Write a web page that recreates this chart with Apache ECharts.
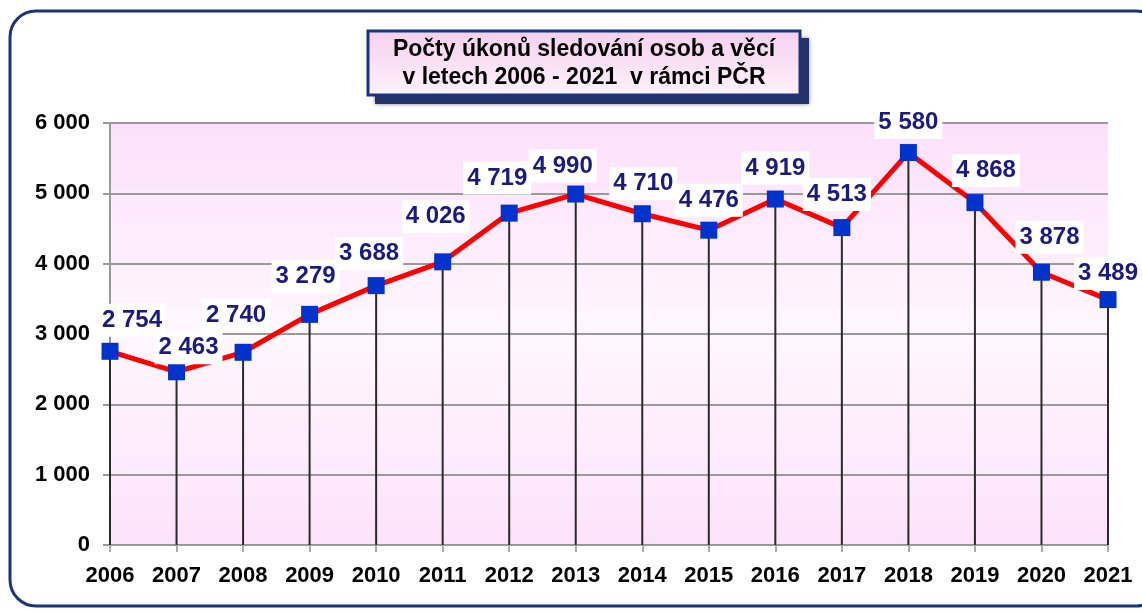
<!DOCTYPE html>
<html>
<head>
<meta charset="utf-8">
<script src="https://cdn.jsdelivr.net/npm/echarts@6/dist/echarts.min.js"></script>
<style>
    html, body { margin: 0; padding: 0; background: #fff; }
    #main { width: 1142px; height: 612px; }
</style>
</head>
<body>
<div id="main"></div>
<script>
var years = ['2006', '2007', '2008', '2009', '2010', '2011', '2012', '2013',
    '2014', '2015', '2016', '2017', '2018', '2019', '2020', '2021'];
var counts = [2754, 2463, 2740, 3279, 3688, 4026, 4719, 4990,
    4710, 4476, 4919, 4513, 5580, 4868, 3878, 3489];
var titleLines = ['Počty úkonů sledování osob a věcí', 'v letech 2006 - 2021  v rámci PČR'];

// where each value label sits relative to its marker
var labelShift = [[22, -31], [12, -24], [-7, -37], [-4, -38], [-7, -32], [-7, -45],
    [-12, -35], [-13, -28], [1, -30], [0, -30], [0, -31], [-5, -33],
    [0, -30], [11, -32], [8, -35], [0, -26]];

function fmt(v) {
    return String(v).replace(/\B(?=(\d{3})+(?!\d))/g, ' ');
}

var navy = '#1b3478';
var font = 'Arial, "Liberation Sans", sans-serif';

var mainChart = echarts.init(document.getElementById('main'));

var lineData = counts.map(function(v, i) {
    return {
        value: v,
        label: { offset: labelShift[i] }
    };
});

var option = {
    animation: false,
    grid: {
        left: 110,
        right: 34,
        top: 123,
        bottom: 67,
        show: true,
        borderWidth: 0,
        backgroundColor: new echarts.graphic.LinearGradient(0, 0, 0, 1, [
            { offset: 0, color: '#fde0fb' },
            { offset: 0.5, color: '#fff7fe' },
            { offset: 1, color: '#fde2fb' }
        ])
    },
    xAxis: {
        type: 'category',
        data: years,
        boundaryGap: false,
        axisLine: { lineStyle: { color: '#999', width: 2 } },
        axisTick: { show: true, length: 7, alignWithLabel: true, lineStyle: { color: '#aaa', width: 2 } },
        axisLabel: {
            margin: 20,
            color: '#000',
            fontFamily: font,
            fontWeight: 'bold',
            fontSize: 22
        }
    },
    yAxis: {
        type: 'value',
        min: 0,
        max: 6000,
        interval: 1000,
        axisLine: { show: true, lineStyle: { color: '#999', width: 2 } },
        axisTick: { show: true, length: 7, lineStyle: { color: '#999', width: 2 } },
        splitLine: { lineStyle: { color: '#9a9a9a', width: 2 } },
        axisLabel: {
            margin: 20,
            color: '#000',
            fontFamily: font,
            fontWeight: 'bold',
            fontSize: 22,
            formatter: function(v) { return fmt(v); }
        }
    },
    series: [{
        name: 'drop',
        type: 'bar',
        barWidth: 2,
        silent: true,
        z: 1,
        itemStyle: { color: '#2a2a2a' },
        data: counts
    }, {
        name: 'Počty úkonů',
        type: 'line',
        z: 3,
        symbol: 'rect',
        symbolSize: 17,
        itemStyle: { color: '#0033cc' },
        lineStyle: { color: '#ff0000', width: 5 },
        label: {
            show: true,
            position: 'inside',
            color: '#1a1a80',
            fontFamily: font,
            fontWeight: 'bold',
            fontSize: 24,
            backgroundColor: '#ffffff',
            padding: [5, 4, 4, 4],
            formatter: function(p) { return fmt(p.value); }
        },
        data: lineData
    }],
    graphic: [{
        // outer frame
        type: 'rect',
        shape: { x: 10, y: 11, width: 1152, height: 595, r: 26 },
        style: { fill: 'none', stroke: navy, lineWidth: 3 },
        z: 100
    }, {
        // title shadow
        type: 'rect',
        shape: { x: 375, y: 38, width: 434, height: 66 },
        style: { fill: '#26336b', shadowBlur: 4, shadowColor: 'rgba(0,0,40,0.5)' },
        z: 100
    }, {
        type: 'rect',
        shape: { x: 368, y: 31, width: 432, height: 64 },
        style: {
            fill: new echarts.graphic.LinearGradient(0, 0, 0, 1, [
                { offset: 0, color: '#f5d0ee' },
                { offset: 1, color: '#fff2fb' }
            ]),
            stroke: navy,
            lineWidth: 3
        },
        z: 101
    }, {
        type: 'text',
        x: 584,
        y: 64,
        z: 102,
        style: {
            text: titleLines.join('\n'),
            align: 'center',
            verticalAlign: 'middle',
            fill: '#000',
            font: 'bold 23px ' + font,
            lineHeight: 28
        }
    }]
};

mainChart.setOption(option);
</script>
</body>
</html>
